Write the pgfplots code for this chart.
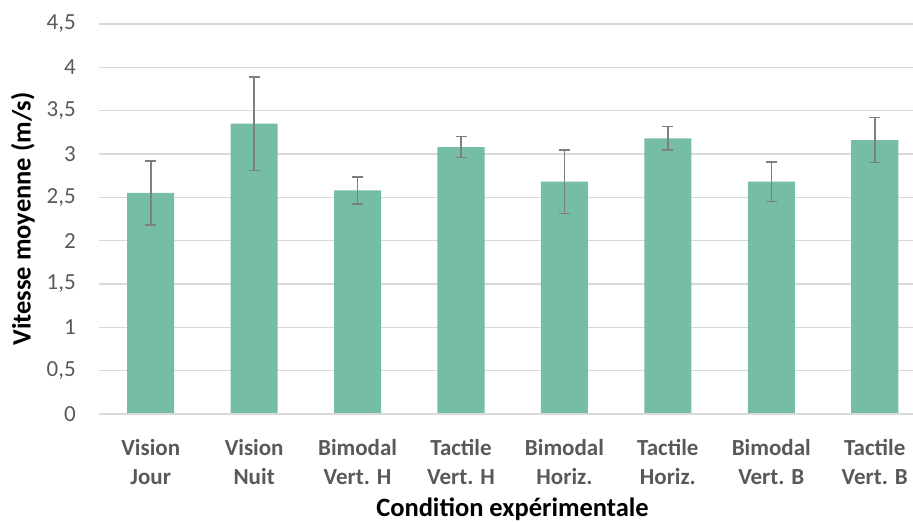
\documentclass[border=0pt]{standalone}
\usepackage{pgfplots}
\pgfplotsset{compat=1.18}
\usepackage{fontspec}
\setmainfont{Carlito}
\definecolor{barc}{HTML}{75BDA7}
\definecolor{errc}{HTML}{7F7F7F}
\definecolor{gridc}{HTML}{D9D9D9}
\definecolor{txtc}{HTML}{595959}
\begin{document}
\begin{tikzpicture}
\begin{axis}[
  scale only axis, width=814pt, height=390pt,
  ybar, bar width=0.455,
  xmin=-0.5, xmax=7.37, ymin=0, ymax=4.5,
  xtick={0,1,2,3,4,5,6,7},
  xticklabels={{Vision\\Jour},{Vision\\Nuit},{Bimodal\\Vert. H},{Tactile\\Vert. H},{Bimodal\\Horiz.},{Tactile\\Horiz.},{Bimodal\\Vert. B},{Tactile\\Vert. B}},
  ytick={0,0.5,1,1.5,2,2.5,3,3.5,4,4.5},
  /pgf/number format/use comma,
  /pgf/number format/assume math mode=true,
  axis line style={draw=none},
  major tick length=0pt,
  ymajorgrids, grid style={gridc, line width=1.5pt},
  xticklabel style={align=center, anchor=north, inner sep=0pt, yshift=-25pt,
    font=\fontsize{23}{28.7}\selectfont\bfseries, text=txtc},
  yticklabel style={anchor=east, inner sep=0pt, xshift=-23pt,
    font=\fontsize{23}{27}\selectfont, text=txtc},
  xlabel={Condition expérimentale},
  ylabel={Vitesse moyenne (m/s)},
  every axis x label/.style={at={(axis description cs:0.508,-0.264)}, anchor=base,
    font=\fontsize{26.5}{30}\selectfont\bfseries},
  every axis y label/.style={at={(axis description cs:-0.0934,0.5)}, anchor=center, rotate=90,
    font=\fontsize{26.5}{30}\selectfont\bfseries},
  clip=false,
]
\addplot[fill=barc, draw=none,
  error bars/.cd, y dir=both, y explicit,
  error bar style={errc, line width=1.6pt},
  error mark options={rotate=90, mark size=5.5pt, errc, line width=1.6pt}]
  table[x=x, y=y, y error=e] {
x y e
0 2.55 0.37
1 3.35 0.54
2 2.58 0.155
3 3.08 0.12
4 2.68 0.365
5 3.18 0.135
6 2.68 0.23
7 3.16 0.26
};
\draw[gridc, line width=1.5pt] (axis cs:-0.5,0) -- (axis cs:7.37,0);
\coordinate (sw) at (rel axis cs:0,0);
\coordinate (ne) at (rel axis cs:1,1);
\end{axis}
\pgfresetboundingbox
\path[use as bounding box] ([xshift=-99pt,yshift=-108pt]sw) rectangle ([yshift=24pt]ne);
\end{tikzpicture}
\end{document}
